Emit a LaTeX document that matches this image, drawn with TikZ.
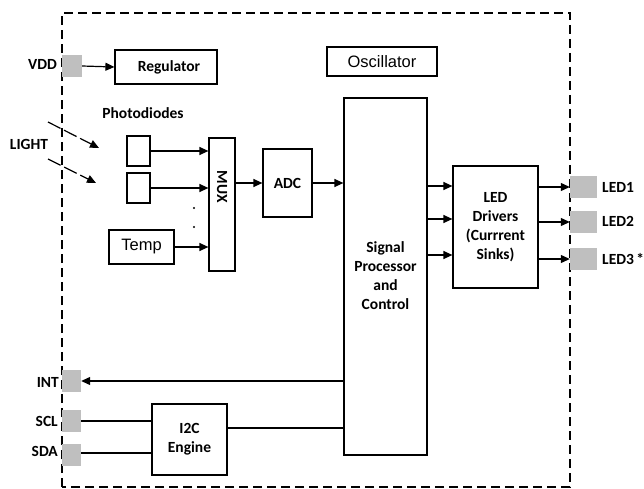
\documentclass[tikz,border=0pt]{standalone}
\usepackage{fontspec}
\setmainfont{Carlito}
\newfontfamily\arialf{Liberation Sans}
\usetikzlibrary{arrows.meta}
\begin{document}
\begin{tikzpicture}[x=1pt,y=-1pt,
  blk/.style={draw,line width=1.2pt,inner sep=0pt,font=\fontsize{15.5}{17}\selectfont\bfseries,align=center},
  ablk/.style={draw,line width=1.2pt,inner sep=0pt,font=\arialf\fontsize{16.5}{18}\selectfont},
  pad/.style={fill=black!25,inner sep=0pt},
  lbl/.style={inner sep=0pt,font=\fontsize{15.5}{17}\selectfont\bfseries},
  wire/.style={line width=1.2pt},
  arr/.style={line width=1.2pt,-{Triangle[length=9pt,width=8pt]}},
  border/.style={line width=1.1pt,dash pattern=on 9pt off 5pt}]
\useasboundingbox (0,0) rectangle (644,489);
% border
\draw[border] (62,487) -- (62,13) -- (570,13) -- (570,487) -- cycle;
% pads
\node[pad,minimum width=20pt,minimum height=22pt] (vdd) at (72,66) {};
\node[pad,minimum width=19pt,minimum height=22pt] (int) at (71.5,381) {};
\node[pad,minimum width=19pt,minimum height=22pt] (scl) at (71.5,421) {};
\node[pad,minimum width=19pt,minimum height=22pt] (sda) at (71.5,455) {};
\node[pad,minimum width=27pt,minimum height=22pt] (led1) at (583.5,187) {};
\node[pad,minimum width=27pt,minimum height=22pt] (led2) at (583.5,222) {};
\node[pad,minimum width=27pt,minimum height=22pt] (led3) at (583.5,259) {};
% labels
\node[lbl,anchor=east] (lvdd) at (57,64) {VDD};
\node[lbl] (llight) at (29,144) {LIGHT};
\node[lbl] (lphoto) at (143,113) {Photodiodes};
\node[lbl,anchor=east] (lint) at (59,382) {INT};
\node[lbl,anchor=east] (lscl) at (58,421) {SCL};
\node[lbl,anchor=east] (lsda) at (58,451) {SDA};
\node[lbl,anchor=west] (lled1) at (602,187) {LED1};
\node[lbl,anchor=west] (lled2) at (602,221) {LED2};
\node[lbl,anchor=west] (lled3) at (602,259) {LED3\hspace{2.5pt}*};
% blocks
\node[blk,minimum width=102pt,minimum height=34pt] (reg) at (166,67) {\hspace*{6pt}Regulator};
\node[ablk,minimum width=110pt,minimum height=29pt] (osc) at (382,61.5) {Oscillator};
\node[draw,line width=1.2pt,minimum width=23pt,minimum height=30pt,inner sep=0pt] (pd1) at (138.5,151) {};
\node[draw,line width=1.2pt,minimum width=23pt,minimum height=30pt,inner sep=0pt] (pd2) at (138.5,188) {};
\node[ablk,minimum width=65pt,minimum height=34pt] (temp) at (141.5,247) {Temp};
\node[draw,line width=1.2pt,minimum width=26pt,minimum height=133pt,inner sep=0pt] (mux) at (222,204.5) {};
\node[lbl,rotate=-90] (muxt) at (222,187) {MUX};
\node[blk,minimum width=49pt,minimum height=68pt] (adc) at (287.5,183) {ADC};
\node[blk,minimum width=83pt,minimum height=357pt] (sp) at (385.5,276.5) {};
\node[lbl,align=center,font=\fontsize{15.5}{19}\selectfont\bfseries] (spt) at (385.5,276) {Signal\\Processor\\and\\Control};
\node[blk,minimum width=85pt,minimum height=122pt,font=\fontsize{15.5}{19}\selectfont\bfseries] (led) at (495.5,227) {LED\\Drivers\\(Currrent\\Sinks)};
\node[blk,minimum width=75pt,minimum height=71pt,font=\fontsize{15.5}{19}\selectfont\bfseries] (i2c) at (189.5,439.5) {I2C\\Engine};
% dots
\fill (194,208) circle (1.2pt);
\fill (194,227) circle (1.2pt);
% light arrows
\coordinate (la1) at (48,122); \coordinate (lb1) at (99,148);
\coordinate (la2) at (48,159); \coordinate (lb2) at (96,183);
\draw[arr,dash pattern=on 14pt off 4pt] (la1) -- (lb1);
\draw[arr,dash pattern=on 14pt off 4pt] (la2) -- (lb2);
% connectors
\draw[arr] (vdd.east) -- (reg.west);
\draw[arr] (pd1.east) -- (pd1.east -| mux.west);
\draw[arr] (pd2.east) -- (pd2.east -| mux.west);
\draw[arr] (temp.east) -- (temp.east -| mux.west);
\draw[arr] (mux.east |- adc.west) -- (adc.west);
\draw[arr] (adc.east) -- (adc.east -| sp.west);
\draw[arr] (sp.east |- 0,186) -- (led.west |- 0,186);
\draw[arr] (sp.east |- 0,219) -- (led.west |- 0,219);
\draw[arr] (sp.east |- 0,255) -- (led.west |- 0,255);
\draw[arr] (led.east |- led1.west) -- (led1.west);
\draw[arr] (led.east |- led2.west) -- (led2.west);
\draw[arr] (led.east |- led3.west) -- (led3.west);
\draw[arr] (sp.west |- int.east) -- (int.east);
\draw[wire] (scl.east) -- (scl.east -| i2c.west);
\draw[wire] (sda.east |- 0,453) -- (i2c.west |- 0,453);
\draw[wire] (i2c.east |- 0,428) -- (sp.west |- 0,428);
\end{tikzpicture}
\end{document}
